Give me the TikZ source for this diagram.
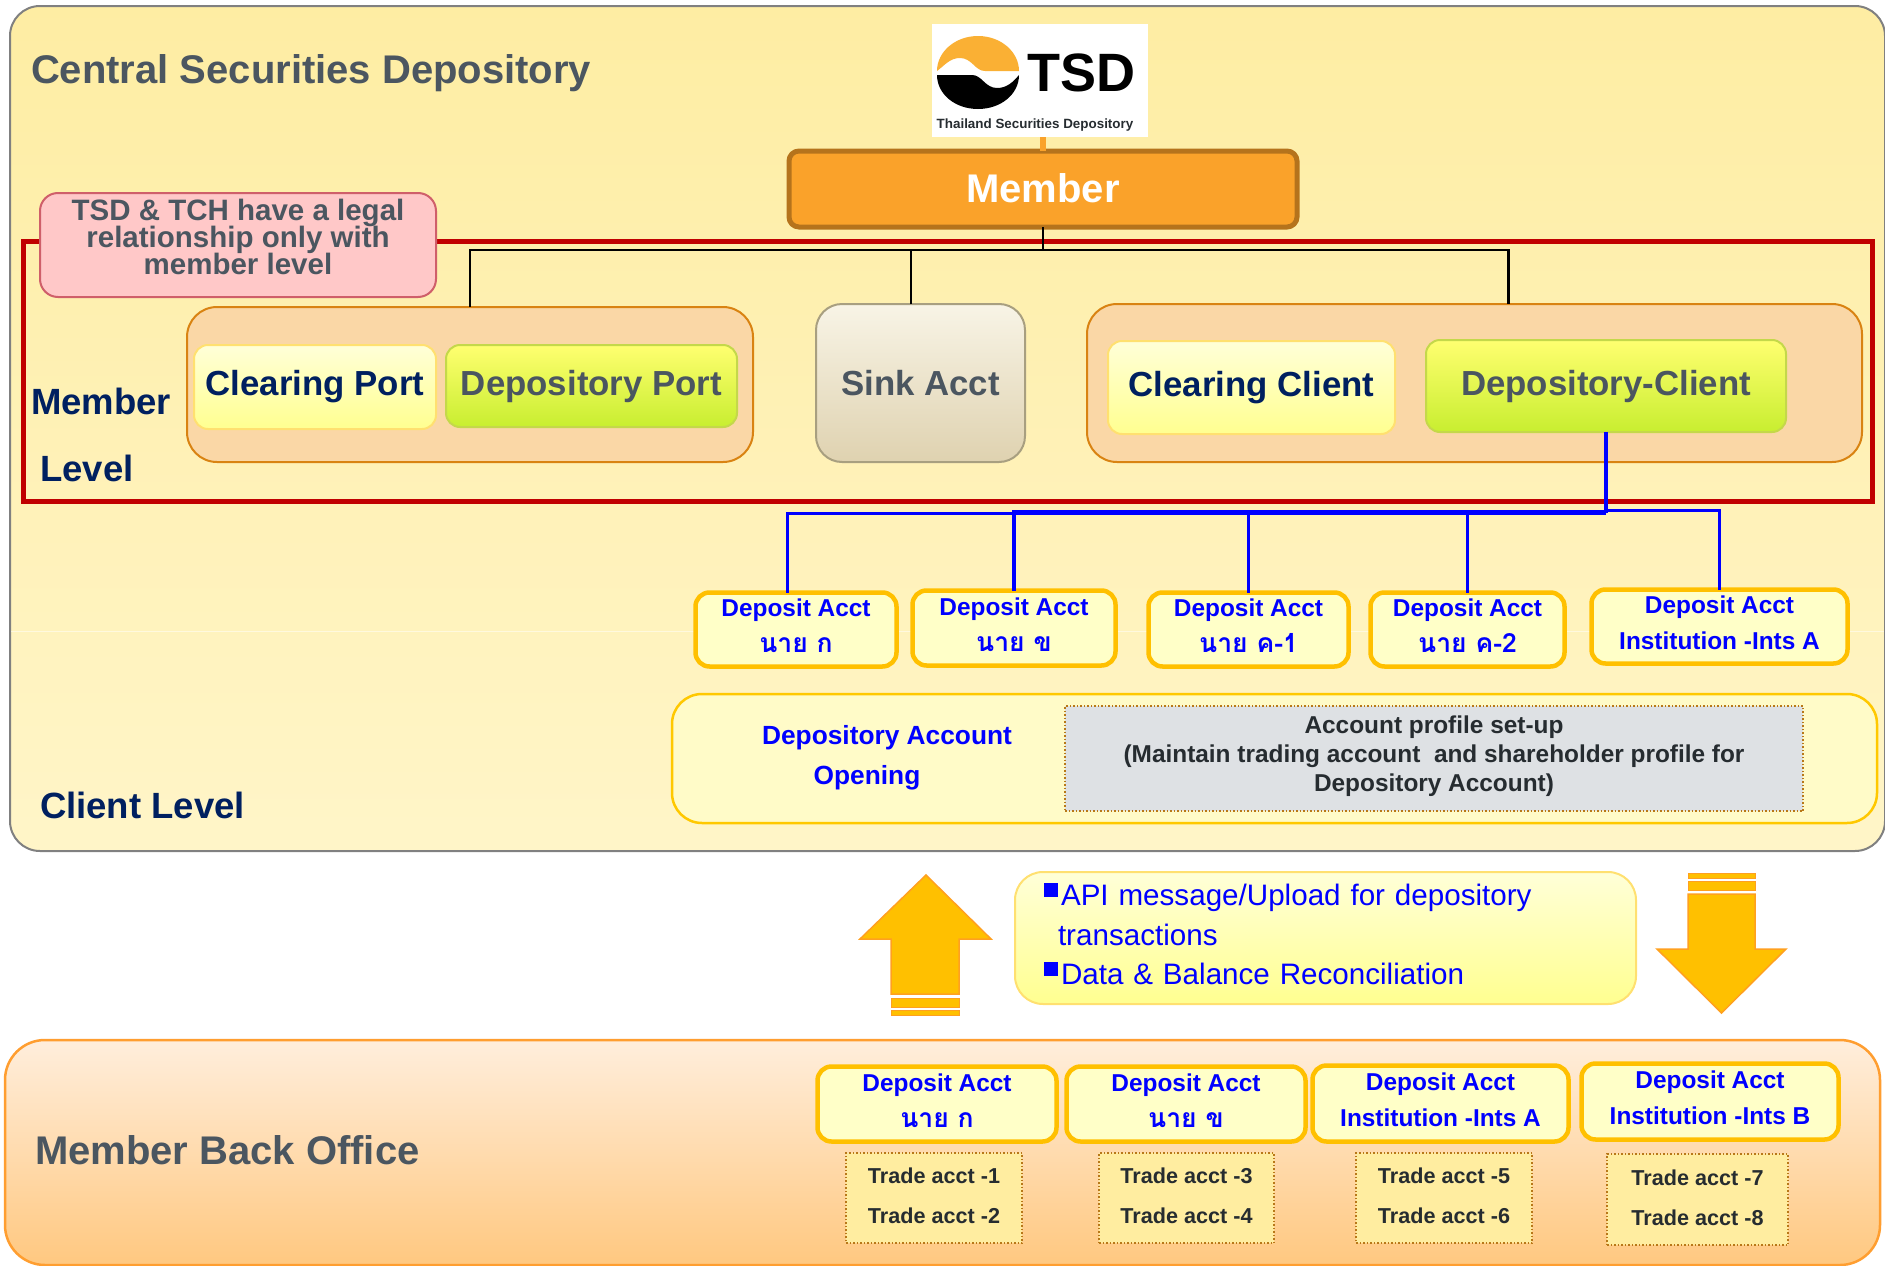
\documentclass[tikz,border=0pt]{standalone}
\usepackage{fontspec}
\setmainfont{Liberation Sans}
\newfontfamily\thaifont[Script=Thai]{Loma}
\usepackage{xcolor}
\usepackage{tikz}
\definecolor{slategrey}{HTML}{4B5660}
\definecolor{navytext}{HTML}{002060}
\definecolor{inkgrey}{HTML}{262C30}
\definecolor{acctamber}{HTML}{FFC000}
\definecolor{portfill}{HTML}{FAD7A6}
\definecolor{portedge}{HTML}{D98312}
\definecolor{lemonedge}{HTML}{FFE070}
\definecolor{lemontop}{HTML}{FFFFD8}
\definecolor{lemonbot}{HTML}{FFFF90}
\definecolor{limeedge}{HTML}{C4D84A}
\definecolor{limetop}{HTML}{FFFF70}
\definecolor{limebot}{HTML}{C8EE30}
\definecolor{acctfill}{HTML}{FFFFC8}
\definecolor{dotedge}{HTML}{B87818}
\definecolor{tradefill}{HTML}{FFEDA0}
\definecolor{arrowedge}{HTML}{FFA020}
\definecolor{csdtop}{HTML}{FEEDA3}
\definecolor{csdbot}{HTML}{FFF5C8}
\definecolor{logoorange}{HTML}{FAB034}
\definecolor{framered}{HTML}{C00000}
\definecolor{memberedge}{HTML}{B5731C}
\definecolor{memberfill}{HTML}{FAA22A}
\definecolor{legaledge}{HTML}{CF5F6A}
\definecolor{legalfill}{HTML}{FFC8C8}
\definecolor{sinkedge}{HTML}{A89F80}
\definecolor{sinktop}{HTML}{F8F4E6}
\definecolor{sinkbot}{HTML}{DFD2B0}
\definecolor{openedge}{HTML}{FFC800}
\definecolor{openfill}{HTML}{FFFBC8}
\definecolor{profilefill}{HTML}{DEE1E4}
\definecolor{officeedge}{HTML}{FF9E30}
\definecolor{officetop}{HTML}{FFEEDC}
\definecolor{officebot}{HTML}{FFC880}
\newcommand{\fsz}[2]{\fontsize{#1}{#2}\selectfont}
\newcommand{\tightlines}{\setlength{\lineskiplimit}{-20pt}}
\newcommand{\thaitext}[1]{{\thaifont\fsz{26.5}{36}#1}}
\newcommand{\sqbullet}{\textcolor{blue}{\rule[9pt]{14pt}{14pt}}\hspace{3pt}}

\begin{document}
\begin{tikzpicture}[%
      x=1pt,y=-1pt,
      every node/.style={inner sep=0pt,outer sep=0pt},
      heading/.style={font=\bfseries\fsz{40}{44},text=slategrey},
      levelname/.style={font=\bfseries\fsz{36.5}{40},text=navytext},
      container/.style={draw=portedge,line width=2pt,fill=portfill,rounded corners=30pt},
      whitebox/.style={draw=lemonedge,line width=2pt,top color=lemontop,bottom color=lemonbot,rounded corners=14pt,font=\bfseries\fsz{34.8}{40},text=navytext},
      greenbox/.style={draw=limeedge,line width=2pt,top color=limetop,bottom color=limebot,rounded corners=14pt,font=\bfseries\fsz{34.8}{40},text=slategrey},
      acct/.style={draw=acctamber,line width=4.5pt,fill=acctfill,rounded corners=14pt,align=center,text=blue,text depth=7.2pt,font=\bfseries\fsz{24.4}{36}},
      trade/.style={draw=dotedge,line width=1.5pt,dotted,fill=tradefill,align=center,text=inkgrey,text depth=4.5pt,font=\bfseries\fsz{21.6}{40}},
      bigarrow/.style={draw=arrowedge,line width=1.5pt,fill=acctamber},
      blueline/.style={draw=blue,line width=3.5pt},
      ]
      \useasboundingbox (0,0) rectangle (1885,1266);
      \fill[white] (0,0) rectangle (1885,1266);
      % depository panel
      \node[draw=gray,line width=2pt,top color=csdtop,bottom color=csdbot,rounded corners=30pt,minimum width=1875pt,minimum height=845pt] (csd) at (947.5,428.5) {};
      \draw[white,opacity=.5,line width=1pt] (11,631) -- (1884,631);
      \node[heading,anchor=west] (csdtitle) at (31,73.5) {Central Securities Depository};
      % logo
      \node[fill=white,minimum width=216pt,minimum height=113pt] (logo) at (1040,80.5) {};
      \fill[logoorange] (937,71) .. controls (937,52) and (955,36) .. (978,36) .. controls (1001,36) and (1019,52) .. (1019,71)
        -- (985,71) .. controls (975,71) and (972,58) .. (960,58) .. controls (950,58) and (945,65) .. (937,71) -- cycle;
      \fill[black] (937,75) -- (972,75) .. controls (982,75) and (985,88) .. (997,88) .. controls (1007,88) and (1013,82) .. (1019,75)
        .. controls (1019,94) and (1001,109) .. (978,109) .. controls (955,109) and (937,94) .. (937,75) -- cycle;
      \node[anchor=center,font=\bfseries\fsz{54}{60}] (logotsd) at (1081,73) {TSD};
      \node[font=\bfseries\fsz{13.4}{15},text=inkgrey] (logoname) at (1035,125) {Thailand Securities Depository};
      % member level
      \node[draw=framered,line width=5pt,minimum width=1849pt,minimum height=260pt] (memberframe) at (947.5,371.5) {};
      \node[draw=memberedge,line width=5pt,fill=memberfill,rounded corners=10pt,minimum width=508pt,minimum height=76pt] (member) at (1043,189) {};
      \node[text=white,font=\bfseries\fsz{40}{44}] (membertext) at (1043,188) {Member};
      \draw[memberfill,line width=6pt] (logo.south -| member.north) -- (member.north);
      \node[draw=legaledge,line width=2pt,fill=legalfill,rounded corners=18pt,minimum width=396pt,minimum height=104pt] (legal) at (238,245) {};
      \node[align=center,text=slategrey,font=\bfseries\fsz{29.5}{26.7}\tightlines] (legaltext) at (238,237) {TSD \& TCH have a legal\\relationship only with\\member level};
      \node[levelname] (memberword) at (101,401) {Member};
      \node[levelname] (levelword) at (87,468) {Level};
      \node[container,minimum width=566pt,minimum height=155pt] (ports) at (470,384.5) {};
      \node[whitebox,minimum width=242pt,minimum height=84pt] (clearport) at (315,387) {Clearing Port};
      \node[greenbox,minimum width=291pt,minimum height=82pt] (depoport) at (591.5,386) {Depository Port};
      \node[draw=sinkedge,line width=2pt,top color=sinktop,bottom color=sinkbot,rounded corners=26pt,minimum width=209pt,minimum height=158pt,text=slategrey,font=\bfseries\fsz{34.8}{40}] (sink) at (920.5,383) {Sink Acct};
      \node[container,minimum width=775pt,minimum height=158pt] (clients) at (1474.5,383) {};
      \node[whitebox,minimum width=287pt,minimum height=93pt] (clearclient) at (1251.5,387.5) {Clearing Client};
      \node[greenbox,minimum width=360pt,minimum height=92pt] (depoclient) at (1606,386) {Depository-Client};
      \coordinate (split) at (1043,250);
      \draw[black,line width=2.5pt] (member.south) -- (split);
      \draw[black,line width=2.5pt] (ports.north) |- (split) -| ([xshift=34pt]clients.north);
      \draw[black,line width=2.5pt] ([xshift=-9.5pt]sink.north) |- (split);
      % client level
      \node[acct,minimum width=201pt,minimum height=74pt] (acctone) at (796,629.5) {Deposit Acct\\\thaitext{นาย ก}};
      \node[acct,minimum width=203pt,minimum height=75pt] (accttwo) at (1014,628) {Deposit Acct\\\thaitext{นาย ข}};
      \node[acct,minimum width=200pt,minimum height=74pt] (acctthree) at (1248.5,629.5) {Deposit Acct\\\thaitext{นาย ค-1}};
      \node[acct,minimum width=194pt,minimum height=74pt] (acctfour) at (1467.5,629.5) {Deposit Acct\\\thaitext{นาย ค-2}};
      \node[acct,minimum width=256pt,minimum height=74pt] (acctfive) at (1719.5,626.5) {Deposit Acct\\Institution -Ints A};
      \coordinate (busleft) at (1606,513);
      \coordinate (busmid) at (1606,512);
      \coordinate (busright) at (1606,510);
      \draw[blueline] (depoclient.south) -- (busleft);
      \draw[blueline,line width=3pt] (busleft) -| ([xshift=-9pt]acctone.north);
      \draw[blueline] (busmid) -| (accttwo.north);
      \draw[blueline] (busmid) -| (acctthree.north);
      \draw[blueline] (busmid) -| (acctfour.north);
      \draw[blueline,line width=3pt] (busright) -| (acctfive.north);
      \node[draw=openedge,line width=2.5pt,fill=openfill,rounded corners=30pt,minimum width=1205pt,minimum height=129pt] (opening) at (1274.5,758.5) {};
      \node[text=blue,font=\bfseries\fsz{26.3}{30}] (openingone) at (887,738) {Depository Account};
      \node[text=blue,font=\bfseries\fsz{26.3}{30}] (openingtwo) at (867,778) {Opening};
      \node[draw=dotedge,line width=1.5pt,dotted,fill=profilefill,minimum width=738pt,minimum height=105pt,align=center,text=inkgrey,text depth=10pt,font=\bfseries\fsz{24.4}{29}] (profile) at (1434,758.5) {Account profile set-up\\(Maintain trading account~ and shareholder profile for\\Depository Account)};
      \node[levelname,anchor=west] (clientword) at (40,805) {Client Level};
      % exchange
      \draw[bigarrow] (926,875) -- (991,939) -- (959,939) -- (959,994) -- (891,994) -- (891,939) -- (860,939) -- cycle;
      \draw[bigarrow,line width=1pt] (891,998) rectangle (959,1007);
      \draw[bigarrow,line width=1pt] (891,1010) rectangle (959,1015);
      \draw[bigarrow] (1721.5,1013) -- (1786,949) -- (1755,949) -- (1755,894) -- (1688,894) -- (1688,949) -- (1657,949) -- cycle;
      \draw[bigarrow,line width=1pt] (1688,881) rectangle (1755,890);
      \draw[bigarrow,line width=1pt] (1688,873) rectangle (1755,878);
      \node[draw=lemonedge,line width=2pt,top color=lemontop,bottom color=lemonbot,rounded corners=28pt,minimum width=621pt,minimum height=132pt] (info) at (1325.5,938) {};
      \node[anchor=north west,align=left,text width=560pt,text=blue,font=\fsz{29.6}{39.7}] (infotext) at (1044,882.5) {\sqbullet API message/Upload for depository\\\hspace*{14pt}transactions\\\sqbullet Data \& Balance Reconciliation};
      % back office
      \node[draw=officeedge,line width=2.5pt,top color=officetop,bottom color=officebot,rounded corners=40pt,minimum width=1875pt,minimum height=225pt] (office) at (942.5,1152.5) {};
      \node[heading,anchor=west] (officetitle) at (35,1150) {Member Back Office};
      \node[acct,minimum width=239pt,minimum height=75pt] (backone) at (937,1104) {Deposit Acct\\\thaitext{นาย ก}};
      \node[acct,minimum width=239pt,minimum height=75pt] (backtwo) at (1186,1104) {Deposit Acct\\\thaitext{นาย ข}};
      \node[acct,minimum width=256pt,minimum height=76pt] (backthree) at (1440.5,1103.5) {Deposit Acct\\Institution -Ints A};
      \node[acct,minimum width=257pt,minimum height=76pt] (backfour) at (1710,1101.5) {Deposit Acct\\Institution -Ints B};
      \node[trade,minimum width=176pt,minimum height=90pt] (tradeone) at (934,1198) {Trade acct -1\\Trade acct -2};
      \node[trade,minimum width=175pt,minimum height=90pt] (tradetwo) at (1186.5,1198) {Trade acct -3\\Trade acct -4};
      \node[trade,minimum width=176pt,minimum height=90pt] (tradethree) at (1444,1198) {Trade acct -5\\Trade acct -6};
      \node[trade,minimum width=181pt,minimum height=91pt] (tradefour) at (1697.5,1199.5) {Trade acct -7\\Trade acct -8};
    \end{tikzpicture}
\end{document}
